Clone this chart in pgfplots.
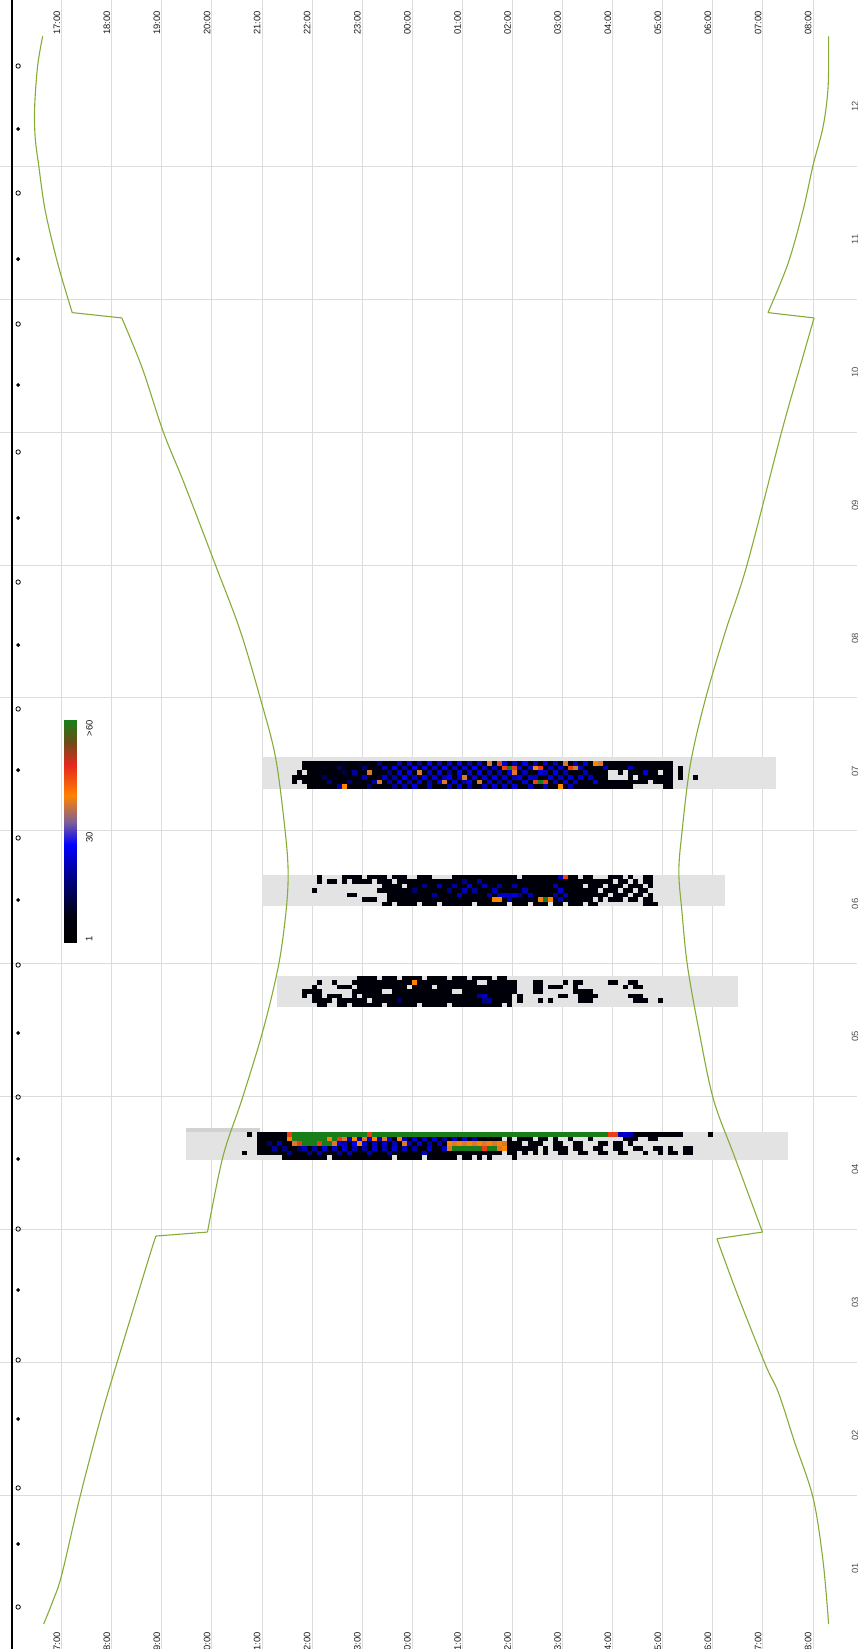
\documentclass[border=0pt]{standalone}
\usepackage{pgfplots}
\pgfplotsset{compat=1.18}
\usepackage{pgfplotstable}
\usepackage{fontspec}
\setmainfont{Liberation Sans}

\definecolor{sun}{RGB}{134,172,56}
\definecolor{band}{RGB}{227,227,227}
\definecolor{bandd}{RGB}{210,210,210}
\definecolor{gridc}{RGB}{220,220,220}

\pgfdeclareplotmark{cell}{\pgfpathrectangle{\pgfpoint{-1.28pt}{-1.17pt}}{\pgfpoint{2.56pt}{2.34pt}}\pgfusepathqfill}

\pgfplotsset{
  heatcell/.style={scatter, only marks, mark=cell, point meta=explicit},
  batcells/.style={colormap={batc}{rgb255(0pt)=(227,227,227); rgb255(1pt)=(0,0,0); rgb255(8pt)=(0,0,15);
    rgb255(18pt)=(0,0,130); rgb255(27pt)=(0,0,255); rgb255(33pt)=(125,95,150); rgb255(40pt)=(255,130,0);
    rgb255(48pt)=(230,40,30); rgb255(54pt)=(110,75,25); rgb255(60pt)=(25,125,25)}},
  batmap/.style={colormap={bat}{rgb255(1pt)=(0,0,0); rgb255(8pt)=(0,0,15); rgb255(18pt)=(0,0,130);
    rgb255(27pt)=(0,0,255); rgb255(33pt)=(125,95,150); rgb255(40pt)=(255,130,0);
    rgb255(48pt)=(230,40,30); rgb255(54pt)=(110,75,25); rgb255(60pt)=(25,125,25)}},
  sunline/.style={sun, line width=0.55pt},
  sunsmooth/.style={sun, line width=0.55pt, smooth, tension=0.55},
}
\tikzset{tlab/.style={xshift=-0.6pt, rotate=90, anchor=south east, inner sep=0pt,
  font=\fontsize{4.7}{5}\selectfont, text=black!90},
  cblab/.style={xshift=4.5pt, rotate=90, inner sep=0pt, font=\fontsize{4.7}{5}\selectfont, text=black!90}}
\newcommand\hlab[1]{\pgfmathtruncatemacro\hh{mod(#1,24)}\ifnum\hh<10 0\fi\hh:00}

% Band A (July), 7 nights, value per 6-minute slot; 0 = no data
\pgfplotstableread{
t r0 r1 r2 r3 r4 r5 r6
21.65 0 0 0 0 5 4 0
21.75 0 0 0 4 6 0 0
21.85 0 5 4 0 3 5 0
21.95 0 6 5 4 6 7 3
22.05 0 4 6 5 4 6 5
22.15 0 7 5 8 6 4 6
22.25 0 5 9 6 14 6 4
22.35 0 6 4 7 5 18 5
22.45 0 8 6 5 9 6 7
22.55 0 5 16 6 7 5 20
22.65 0 9 6 12 6 8 40
22.75 0 4 7 6 5 17 6
22.85 0 6 5 20 8 6 5
22.95 0 10 6 7 6 9 7
23.05 0 5 17 6 22 6 5
23.15 0 7 6 38 6 7 16
23.25 0 6 9 6 7 20 6
23.35 0 18 6 8 5 38 7
23.45 0 6 22 7 24 6 8
23.55 0 8 6 18 6 21 5
23.65 0 6 25 6 20 7 18
23.75 0 22 7 24 6 26 6
23.85 0 6 20 6 27 8 20
23.95 0 24 6 26 7 22 6
24.05 0 7 27 6 22 6 24
24.15 0 20 6 38 8 24 6
24.25 0 6 24 7 26 6 8
24.35 0 27 7 22 6 20 22
24.45 0 8 22 6 24 7 6
24.55 0 22 6 25 6 26 8
24.65 0 6 26 8 22 38 6
24.75 0 24 7 20 27 6 22
24.85 0 7 22 6 8 24 6
24.95 0 26 6 27 22 7 24
25.05 0 8 24 7 38 20 6
25.15 0 22 6 24 8 26 22
25.25 0 6 27 6 22 6 8
25.35 0 24 8 26 7 38 6
25.45 0 7 22 6 24 6 22
25.55 0 38 6 22 6 24 7
25.65 0 6 24 7 26 8 24
25.75 0 46 8 22 6 20 6
25.85 0 24 46 6 24 7 22
25.95 0 8 60 26 7 22 6
26.05 0 22 46 38 22 6 24
26.15 0 6 24 8 26 7 8
26.25 0 26 7 22 6 24 6
26.35 0 8 22 6 24 6 22
26.45 0 22 40 7 22 46 6
26.55 0 6 46 24 6 60 8
26.65 0 24 7 22 8 46 22
26.75 0 7 22 6 24 7 6
26.85 0 22 6 26 6 22 8
26.95 0 8 24 7 22 6 40
27.05 0 38 6 22 8 24 6
27.15 0 6 46 6 24 7 22
27.25 0 22 38 8 6 22 6
27.35 0 6 22 6 24 6 8
27.45 0 24 7 22 6 8 6
27.55 0 7 6 8 22 6 7
27.65 0 40 8 6 7 24 6
27.75 0 38 6 7 6 8 5
27.85 0 6 22 5 7 6 8
27.95 0 8 6 0 0 7 6
28.05 0 6 7 0 0 6 5
28.15 0 7 5 6 0 8 6
28.25 0 5 6 0 0 6 7
28.35 0 6 22 7 6 5 6
28.45 0 7 6 6 0 7 0
28.55 0 5 8 5 6 6 0
28.65 0 6 6 24 7 5 0
28.75 0 8 5 6 6 0 0
28.85 0 6 7 5 8 6 0
28.95 0 5 6 0 6 5 0
29.05 0 7 5 6 7 6 5
29.15 0 6 8 5 6 7 6
29.35 0 0 6 5 7 0 0
29.65 0 0 0 0 6 0 0
}\bandA

% Band B (June)
\pgfplotstableread{
t r0 r1 r2 r3 r4 r5 r6
22.05 0 0 0 5 0 0 0
22.15 5 6 0 0 0 0 0
22.35 0 5 0 0 0 0 0
22.45 0 6 0 0 0 0 0
22.65 6 5 0 0 0 0 0
22.75 5 0 0 0 6 0 0
22.85 6 5 0 0 5 0 0
22.95 5 6 0 0 0 0 0
23.05 0 5 0 0 0 6 0
23.15 6 6 0 0 0 5 0
23.25 5 0 0 0 0 6 0
23.35 6 5 0 5 0 0 0
23.45 5 6 6 5 0 0 6
23.55 0 5 5 6 6 5 5
23.65 6 0 6 5 5 6 0
23.75 5 6 5 6 6 5 6
23.85 6 5 0 5 5 6 5
23.95 0 6 6 6 6 5 6
24.05 0 5 5 16 5 6 5
24.15 6 6 6 5 6 5 0
24.25 5 5 18 6 5 6 6
24.35 6 6 5 5 6 5 5
24.45 0 5 6 6 20 6 6
24.55 0 6 22 5 5 5 0
24.65 0 5 6 6 6 6 5
24.75 0 6 5 18 5 5 6
24.85 6 5 20 6 6 6 5
24.95 5 6 6 5 22 5 6
25.05 6 18 5 22 6 6 5
25.15 5 6 24 6 5 5 6
25.25 6 5 6 20 6 6 0
25.35 5 20 5 6 5 5 6
25.45 6 6 22 5 6 6 5
25.55 5 5 6 6 20 5 6
25.65 6 6 5 22 6 40 5
25.75 5 5 20 6 22 40 6
25.85 6 6 6 5 24 6 5
25.95 5 5 5 6 22 20 0
26.05 6 6 20 5 24 6 6
26.15 0 5 6 6 20 5 5
26.25 6 6 5 22 6 6 6
26.35 5 5 6 5 22 5 0
26.45 6 6 5 6 5 6 5
26.55 5 5 6 5 6 40 6
26.65 6 6 5 6 5 60 5
26.75 5 5 6 5 6 40 0
26.85 6 6 22 6 20 6 6
26.95 22 5 6 24 5 22 5
27.05 46 6 5 6 22 6 0
27.15 6 5 6 5 6 5 6
27.25 5 6 5 6 5 6 5
27.35 0 5 6 5 6 5 6
27.45 6 6 0 6 5 6 0
27.55 5 5 6 5 6 5 6
27.65 0 6 5 6 5 0 5
27.75 0 5 6 0 6 6 0
27.85 0 6 0 5 5 0 0
27.95 6 5 6 6 0 5 0
28.05 5 0 5 5 6 6 0
28.15 6 6 6 0 5 5 0
28.25 0 5 0 6 6 0 0
28.35 6 0 5 5 0 6 0
28.45 0 6 6 0 5 5 0
28.55 0 0 5 6 6 0 0
28.65 6 6 0 5 0 6 6
28.75 5 5 6 0 5 5 6
28.85 0 0 0 0 0 0 5
}\bandB

% Band C (May)
\pgfplotstableread{
t r0 r1 r2 r3 r4 r5 r6
21.85 0 0 0 6 5 0 0
21.95 0 0 0 5 0 0 0
22.05 0 0 6 5 6 5 0
22.15 0 6 0 6 5 6 6
22.25 0 0 0 0 0 5 6
22.35 0 0 0 0 6 6 0
22.45 0 6 0 0 5 0 0
22.55 0 0 6 0 6 5 6
22.65 0 0 5 0 0 5 5
22.75 0 0 6 0 0 6 0
22.85 0 5 0 6 5 6 5
22.95 5 6 5 6 0 5 6
23.05 6 5 6 5 6 6 5
23.15 5 6 5 6 5 0 6
23.25 6 5 6 5 6 5 5
23.35 0 6 5 6 5 6 6
23.45 6 5 6 0 6 5 0
23.55 5 6 5 0 5 6 5
23.65 6 5 6 5 6 5 6
23.75 0 6 5 6 5 16 5
23.85 6 5 6 5 6 5 6
23.95 5 6 0 6 5 6 5
24.05 6 40 5 5 6 5 6
24.15 5 6 6 6 5 6 0
24.25 0 5 5 5 6 5 6
24.35 6 6 6 6 5 6 5
24.45 5 5 0 5 6 5 6
24.55 6 6 5 6 5 6 5
24.65 5 5 6 5 6 5 6
24.75 0 6 5 6 5 6 0
24.85 6 5 6 0 6 5 5
24.95 5 6 5 0 5 6 6
25.05 6 5 6 5 6 5 5
25.15 0 6 5 6 5 6 6
25.25 6 5 6 5 6 5 5
25.35 5 0 6 5 20 6 6
25.45 6 0 5 6 22 18 5
25.55 5 6 6 5 6 20 6
25.65 0 5 5 6 5 6 5
25.75 6 6 6 5 6 5 6
25.85 5 5 5 6 5 6 0
25.95 0 6 6 5 6 5 6
26.05 0 6 5 6 0 0 0
26.15 0 0 0 0 6 5 0
26.45 0 6 5 6 0 0 0
26.55 0 5 6 5 0 6 0
26.75 0 0 6 0 0 5 0
26.85 0 0 5 0 0 0 0
26.95 0 0 6 0 6 0 0
27.05 0 6 0 0 5 0 0
27.25 0 6 5 6 0 0 0
27.35 0 5 0 6 6 5 0
27.45 0 0 0 5 5 6 0
27.55 0 0 0 6 6 5 0
27.65 0 0 0 0 5 0 0
27.95 0 5 0 0 0 0 0
28.05 0 6 0 0 0 0 0
28.25 0 0 6 0 0 0 0
28.35 0 6 0 0 6 0 0
28.45 0 5 6 0 5 6 0
28.55 0 0 5 0 6 5 0
28.65 0 0 0 0 0 5 0
28.95 0 0 0 0 0 5 0
}\bandC

% Band D (April), 6 nights
\pgfplotstableread{
t r0 r1 r2 r3 r4 r5
20.65 0 0 0 0 5 0
20.75 5 0 0 0 0 0
20.95 5 6 4 5 6 0
21.05 6 5 7 4 5 0
21.15 4 7 16 6 4 0
21.25 6 5 6 20 7 0
21.35 5 8 22 6 5 0
21.45 7 6 5 18 6 4
21.55 46 40 6 7 20 5
21.65 60 60 38 6 8 6
21.75 60 60 46 16 6 5
21.85 60 60 60 22 7 6
21.95 60 60 60 6 18 4
22.05 60 60 60 20 6 7
22.15 60 60 46 7 22 5
22.25 60 60 60 24 6 6
22.35 60 40 60 6 8 0
22.45 60 60 38 22 6 5
22.55 60 46 24 6 20 7
22.65 60 38 22 24 6 5
22.75 60 24 6 7 22 6
22.85 60 40 26 22 6 4
22.95 60 22 40 6 8 5
23.05 60 38 24 20 6 6
23.15 46 24 6 7 22 5
23.25 60 40 22 24 6 7
23.35 60 22 7 6 8 4
23.45 60 38 24 22 6 6
23.55 60 24 6 7 20 5
23.65 60 6 22 24 6 0
23.75 60 40 6 6 8 6
23.85 60 22 38 22 6 5
23.95 60 6 22 6 7 4
24.05 60 24 6 20 6 6
24.15 60 7 24 6 8 5
24.25 60 22 6 7 22 0
24.35 60 6 20 24 6 6
24.45 60 24 7 6 5 4
24.55 60 6 22 8 6 7
24.65 60 20 6 22 7 5
24.75 60 6 40 38 6 4
24.85 60 22 38 60 5 6
24.95 60 6 40 60 6 0
25.05 60 24 38 60 7 5
25.15 60 6 40 60 6 4
25.25 60 20 38 60 5 0
25.35 60 6 40 60 6 5
25.45 60 7 38 46 5 0
25.55 60 6 40 60 6 5
25.65 60 5 38 60 4 0
25.75 60 6 40 38 6 0
25.85 60 0 38 40 0 0
25.95 60 6 6 5 6 0
26.05 60 0 5 6 5 5
26.15 60 6 6 5 0 0
26.25 60 5 0 6 6 0
26.35 60 6 5 5 0 0
26.45 60 0 6 6 5 0
26.55 60 6 5 0 0 0
26.65 60 5 0 6 6 0
26.75 60 0 0 0 0 0
26.85 60 6 5 6 0 0
26.95 60 0 5 5 6 0
27.05 60 0 0 6 5 0
27.15 60 6 0 0 0 0
27.25 60 0 6 5 0 0
27.35 60 0 5 6 6 0
27.45 60 0 0 0 5 0
27.55 60 5 0 0 0 0
27.65 60 0 0 6 0 0
27.75 60 0 5 5 6 0
27.85 60 0 6 0 5 0
27.95 46 0 0 0 0 0
28.05 46 0 5 6 0 0
28.15 22 0 6 5 5 0
28.25 24 6 0 0 6 0
28.35 22 5 6 0 0 0
28.45 6 6 0 6 0 0
28.55 5 0 0 5 0 0
28.65 6 0 0 0 6 0
28.75 5 5 0 0 0 0
28.85 6 6 0 5 0 0
28.95 5 0 0 6 6 0
29.05 6 0 0 0 0 0
29.15 5 0 0 5 5 0
29.25 6 0 0 0 6 0
29.35 5 0 0 0 0 0
29.45 0 0 0 6 5 0
29.55 0 0 0 5 6 0
29.95 5 0 0 0 0 0
}\bandD

\begin{document}
\begin{tikzpicture}
\begin{axis}[
  name=main,
  scale only axis, width=428.5pt, height=824.5pt,
  xmin=15.768, xmax=32.877, ymin=-0.158, ymax=12.253,
  axis line style={draw=none},
  xtick={17,...,32}, xticklabels={}, xmajorgrids,
  extra x ticks={16}, extra x tick labels={},
  extra x tick style={grid=major, major grid style={black, line width=1pt}},
  ytick={0.45,1.45,...,11.45},
  yticklabels={01,02,03,04,05,06,07,08,09,10,11,12},
  yticklabel pos=right,
  yticklabel style={xshift=-2.8pt, rotate=90, anchor=north, inner sep=0pt, text=black!70},
  tick label style={font=\fontsize{4.7}{5}\selectfont},
  minor ytick={1,...,11}, yminorgrids,
  major tick length=0pt, minor tick length=0pt,
  major grid style={gridc, line width=0.5pt},
  minor grid style={gridc, line width=0.5pt},
  point meta min=0, point meta max=60,
  batcells,
]
% grey bands: nights with recordings
\addplot[fill=band, draw=none] coordinates {(21.0,6.314) (31.26,6.314) (31.26,6.555) (21.0,6.555)} -- cycle;
\addplot[fill=band, draw=none] coordinates {(21.0,5.434) (30.25,5.434) (30.25,5.667) (21.0,5.667)} -- cycle;
\addplot[fill=band, draw=none] coordinates {(21.29,4.674) (30.50,4.674) (30.50,4.907) (21.29,4.907)} -- cycle;
\addplot[fill=band, draw=none] coordinates {(19.48,3.522) (31.50,3.522) (31.50,3.733) (19.48,3.733)} -- cycle;
\addplot[fill=bandd, draw=none] coordinates {(19.48,3.733) (20.96,3.733) (20.96,3.763) (19.48,3.763)} -- cycle;

% band A
\addplot[heatcell] table[x=t, y expr=6.540, meta=r0] {\bandA};
\addplot[heatcell] table[x=t, y expr=6.506, meta=r1] {\bandA};
\addplot[heatcell] table[x=t, y expr=6.471, meta=r2] {\bandA};
\addplot[heatcell] table[x=t, y expr=6.437, meta=r3] {\bandA};
\addplot[heatcell] table[x=t, y expr=6.402, meta=r4] {\bandA};
\addplot[heatcell] table[x=t, y expr=6.368, meta=r5] {\bandA};
\addplot[heatcell] table[x=t, y expr=6.334, meta=r6] {\bandA};
% band B
\addplot[heatcell] table[x=t, y expr=5.650, meta=r0] {\bandB};
\addplot[heatcell] table[x=t, y expr=5.617, meta=r1] {\bandB};
\addplot[heatcell] table[x=t, y expr=5.584, meta=r2] {\bandB};
\addplot[heatcell] table[x=t, y expr=5.550, meta=r3] {\bandB};
\addplot[heatcell] table[x=t, y expr=5.517, meta=r4] {\bandB};
\addplot[heatcell] table[x=t, y expr=5.483, meta=r5] {\bandB};
\addplot[heatcell] table[x=t, y expr=5.450, meta=r6] {\bandB};
% band C
\addplot[heatcell] table[x=t, y expr=4.891, meta=r0] {\bandC};
\addplot[heatcell] table[x=t, y expr=4.857, meta=r1] {\bandC};
\addplot[heatcell] table[x=t, y expr=4.824, meta=r2] {\bandC};
\addplot[heatcell] table[x=t, y expr=4.790, meta=r3] {\bandC};
\addplot[heatcell] table[x=t, y expr=4.757, meta=r4] {\bandC};
\addplot[heatcell] table[x=t, y expr=4.723, meta=r5] {\bandC};
\addplot[heatcell] table[x=t, y expr=4.690, meta=r6] {\bandC};
% band D
\addplot[heatcell] table[x=t, y expr=3.716, meta=r0] {\bandD};
\addplot[heatcell] table[x=t, y expr=3.680, meta=r1] {\bandD};
\addplot[heatcell] table[x=t, y expr=3.645, meta=r2] {\bandD};
\addplot[heatcell] table[x=t, y expr=3.610, meta=r3] {\bandD};
\addplot[heatcell] table[x=t, y expr=3.575, meta=r4] {\bandD};
\addplot[heatcell] table[x=t, y expr=3.540, meta=r5] {\bandD};

% sunset (smooth pieces, straight DST jumps)
\addplot[sunsmooth] coordinates {
(16.62,11.98) (16.52,11.76) (16.46,11.45) (16.47,11.22) (16.54,11.01) (16.67,10.67)
(16.92,10.27) (17.21,9.90)};
\addplot[sunline] coordinates {(17.21,9.90) (18.20,9.86)};
\addplot[sunsmooth] coordinates {
(18.20,9.86) (18.61,9.48) (19.03,9.00) (19.45,8.61) (20.08,7.99) (20.56,7.51)
(20.97,6.99) (21.27,6.55) (21.46,6.00) (21.52,5.69) (21.48,5.40) (21.33,4.99)
(21.02,4.50) (20.60,3.98) (20.22,3.55) (19.91,2.98)};
\addplot[sunline] coordinates {(19.91,2.98) (18.88,2.95)};
\addplot[sunsmooth] coordinates {
(18.88,2.95) (18.72,2.76) (18.09,1.98) (17.77,1.57) (17.36,0.98) (17.0,0.40)
(16.82,0.2) (16.64,0.03)};
% sunrise
\addplot[sunsmooth] coordinates {
(32.31,11.98) (32.30,11.60) (32.20,11.30) (32.0,11.01) (31.80,10.67) (31.50,10.27)
(31.10,9.90)};
\addplot[sunline] coordinates {(31.10,9.90) (32.02,9.86)};
\addplot[sunsmooth] coordinates {
(32.02,9.86) (31.73,9.48) (31.37,9.00) (30.68,8.00) (30.25,7.50) (29.85,6.99)
(29.55,6.50) (29.38,5.98) (29.32,5.69) (29.38,5.40) (29.49,4.99) (29.72,4.50)
(30.01,3.98) (30.43,3.55) (30.99,2.98)};
\addplot[sunline] coordinates {(30.99,2.98) (30.08,2.93)};
\addplot[sunsmooth] coordinates {
(30.08,2.93) (30.50,2.50) (31.05,1.98) (31.31,1.77) (31.63,1.40) (32.0,0.98)
(32.20,0.50) (32.31,0.03)};

% moon phases
\addplot[only marks, mark=o, mark size=1.1pt, mark options={line width=0.4pt}, black] coordinates {
(16.13,11.756) (16.13,10.800) (16.13,9.814) (16.13,8.851) (16.13,7.872) (16.13,6.917)
(16.13,5.946) (16.13,4.990) (16.13,3.996) (16.13,3.003) (16.13,2.017) (16.13,1.054) (16.13,0.158)};
\addplot[only marks, mark=*, mark size=0.75pt, black] coordinates {
(16.13,11.282) (16.13,10.303) (16.13,9.355) (16.13,8.354) (16.13,7.398) (16.13,6.457)
(16.13,5.479) (16.13,4.478) (16.13,3.530) (16.13,2.544) (16.13,1.573) (16.13,0.632)};

\pgfplotsinvokeforeach{17,...,32}{
  \node[tlab] at (axis cs:#1,12.17) {\hlab{#1}};
  \node[tlab] at (axis cs:#1,-0.03) {\hlab{#1}};
}
\end{axis}

% colour scale
\begin{axis}[
  at={(main.north west)}, anchor=north west, xshift=32pt, yshift=-360pt,
  scale only axis, width=6.3pt, height=111.5pt,
  xmin=0, xmax=1, ymin=1, ymax=60, view={0}{90},
  hide axis, clip=false, batmap, point meta min=1, point meta max=60,
]
\addplot3[surf, shader=interp, point meta=y] coordinates {
(0,1,0) (1,1,0)

(0,60,0) (1,60,0)
};
\node[cblab, anchor=north] at (axis cs:1,2.2,0) {1};
\node[cblab, anchor=north] at (axis cs:1,28.9,0) {30};
\node[cblab, anchor=north east] at (axis cs:1,60,0) {>60};
\end{axis}
\pgfresetboundingbox
\useasboundingbox (main.south west) rectangle (main.north east);
\end{tikzpicture}
\end{document}
